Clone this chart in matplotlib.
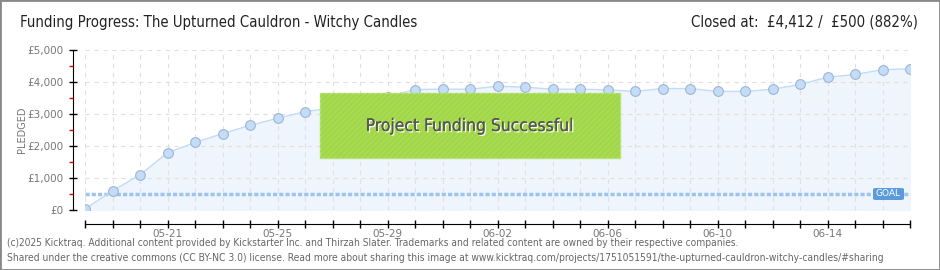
import matplotlib
matplotlib.use('Agg')
import matplotlib.pyplot as plt
from matplotlib.patches import Rectangle, FancyBboxPatch
import matplotlib.patheffects as pe
import numpy as np

# values
dates = ['05-18', '05-19', '05-20', '05-21', '05-22', '05-23', '05-24', '05-25',
         '05-26', '05-27', '05-28', '05-29', '05-30', '05-31', '06-01', '06-02',
         '06-03', '06-04', '06-05', '06-06', '06-07', '06-08', '06-09', '06-10',
         '06-11', '06-12', '06-13', '06-14', '06-15', '06-16', '06-17']
pledged = [30, 600, 1100, 1790, 2110, 2385, 2645, 2865, 3075, 3190, 3485, 3545,
           3765, 3775, 3775, 3870, 3840, 3775, 3775, 3755, 3705, 3795, 3795, 3705,
           3705, 3775, 3925, 4150, 4235, 4385, 4412]
goal = 500
label_every = 4
yticks = [0, 1000, 2000, 3000, 4000, 5000]
ytick_labels = ['£0', '£1,000', '£2,000', '£3,000', '£4,000', '£5,000']

title = 'Funding Progress: The Upturned Cauldron - Witchy Candles'
closed = 'Closed at:  £4,412 /  £500 (882%)'
footer1 = ('(c)2025 Kicktraq. Additional content provided by Kickstarter Inc. and Thirzah Slater. '
           'Trademarks and related content are owned by their respective companies.')
footer2 = ('Shared under the creative commons (CC BY-NC 3.0) license. Read more about sharing this image at '
           'www.kicktraq.com/projects/1751051591/the-upturned-cauldron-witchy-candles/#sharing')

plt.rcParams['hatch.linewidth'] = 0.5

W, H = 940, 270
fig = plt.figure(figsize=(W / 100, H / 100), dpi=100)
fig.patch.set_facecolor('white')

ax = fig.add_axes([85 / W, 1 - 210 / H, (910 - 85) / W, (210 - 50) / H])
x = np.arange(len(pledged))

ax.fill_between(x, pledged, 0, color='#eef5fd', zorder=1)
ax.plot(x, pledged, color='#c2dcf8', lw=1, zorder=3)
ax.plot(x, pledged, 'o', ms=7, mfc='#c3dcf7', mec='#9fb5d3', mew=0.8, zorder=4)
ax.axhline(goal, color='#9ec4ee', lw=2.5, ls=(0, (1.2, 0.6)), zorder=2)

ax.set_xlim(0, len(pledged) - 1)
ax.set_ylim(0, 5000)
ax.set_xticks(x)
ax.set_xticklabels([d if i % label_every == 3 else '' for i, d in enumerate(dates)])
ax.set_yticks(yticks)
ax.set_yticklabels(ytick_labels)
ax.set_yticks(np.arange(500, 5000, 1000), minor=True)
ax.grid(True, color='#e0e0e0', ls=(0, (4, 4)), lw=0.8, zorder=0)
ax.set_axisbelow(False)

for s in ['top', 'right']:
    ax.spines[s].set_visible(False)
ax.spines['left'].set_position(('outward', 9))
ax.spines['bottom'].set_position(('outward', 10))
ax.tick_params(axis='both', which='major', direction='inout', length=6, width=1,
               colors='black', labelcolor='#777777', labelsize=7.5)
ax.tick_params(axis='y', which='minor', direction='out', length=3, width=1, colors='#dd0000')
ax.tick_params(axis='x', pad=1)
fig.text(22 / W, 1 - 130 / H, 'PLEDGED', rotation=90, color='#777777', fontsize=7,
         ha='center', va='center')

# goal badge
badge = FancyBboxPatch((873 / W, 1 - 200 / H), 31 / W, 12 / H, boxstyle='round,pad=0,rounding_size=0.004',
                       transform=fig.transFigure, fc='#5b9bdc', ec='none', zorder=10)
fig.patches.append(badge)
fig.text(888 / W, 1 - 194 / H, 'GOAL', color='white', fontsize=6.5, ha='center', va='center', zorder=11)

# success banner
fig.patches.append(Rectangle((320 / W, 1 - 158 / H), 300 / W, 65 / H, transform=fig.transFigure,
                             fc='#a6da4f', ec='#b6e376', lw=1, zorder=10))
fig.patches.append(Rectangle((320 / W, 1 - 158 / H), 300 / W, 65 / H, transform=fig.transFigure,
                             fill=False, ec='#9ccf45', lw=0, hatch='//////', zorder=10))
fig.text(470 / W, 1 - 126 / H, 'Project Funding Successful', color='#555555', fontsize=12.5,
         ha='center', va='center', fontstretch='condensed', zorder=11,
         path_effects=[pe.withSimplePatchShadow(offset=(1, -1), shadow_rgbFace='white', alpha=0.9), pe.Normal()])

fig.text(20 / W, 1 - 22 / H, title, fontsize=10.7, color='#222222', va='center', fontstretch='condensed')
fig.text(918 / W, 1 - 22 / H, closed, fontsize=10.7, color='#222222', va='center', ha='right',
         fontstretch='condensed')
fig.text(7 / W, 1 - 243 / H, footer1, fontsize=7.3, color='#666666', va='center', fontstretch='condensed')
fig.text(7 / W, 1 - 258 / H, footer2, fontsize=7.4, color='#666666', va='center', fontstretch='condensed')

# outer frame
fig.patches.append(Rectangle((0, 0), 1, 1, transform=fig.transFigure, fill=False,
                             ec='#888888', lw=2, zorder=20))

fig.savefig('out.png', dpi=100)
